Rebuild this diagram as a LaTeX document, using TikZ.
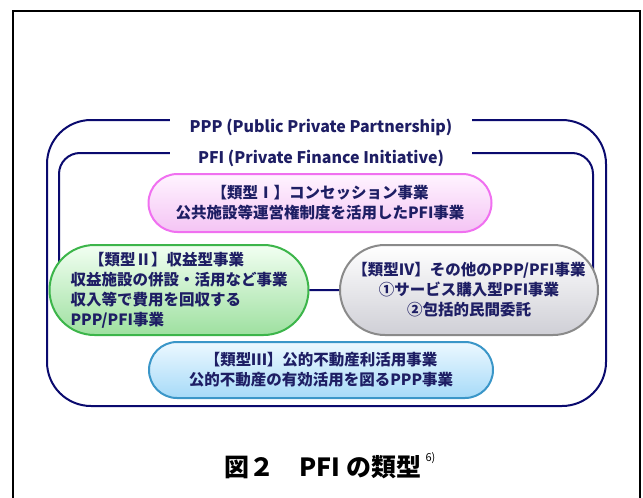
\documentclass[tikz,border=0pt]{standalone}
\usepackage{fontspec}
\setmainfont{Noto Sans CJK JP}
\usetikzlibrary{shapes.misc}

\definecolor{navy}{HTML}{0A0A6E}
\definecolor{inktext}{HTML}{1E1E64}
\definecolor{pinkline}{HTML}{F070F0}
\definecolor{pinktop}{HTML}{FFF4FF}
\definecolor{pinkbot}{HTML}{F4C4F4}
\definecolor{greenline}{HTML}{3CB54A}
\definecolor{greentop}{HTML}{F2FFF2}
\definecolor{greenbot}{HTML}{9EE0A0}
\definecolor{grayline}{HTML}{8A8A8A}
\definecolor{graytop}{HTML}{FFFFFF}
\definecolor{graybot}{HTML}{CFCFD6}
\definecolor{blueline}{HTML}{3A96C8}
\definecolor{bluetop}{HTML}{ECF8FF}
\definecolor{bluebot}{HTML}{A6DAF8}

\tikzset{
    frameline/.style={navy, line width=2pt},
    typebox/.style={rounded rectangle, line width=2pt, text=inktext, inner sep=0pt,
        font=\bfseries\fontsize{15.5}{20}\selectfont, align=center},
    titlebox/.style={fill=white, text=inktext, inner sep=0pt,
        font=\bfseries\fontsize{16}{18}\selectfont, minimum width=302pt, minimum height=22pt},
}

\begin{document}
\begin{tikzpicture}[x=1pt, y=-1pt]
    \useasboundingbox (0,0) rectangle (643,498);
    \draw[black, line width=2pt] (13,498) -- (13,11) -- (640,11) -- (640,498);

    % PPP and PFI frames
    \draw[frameline, rounded corners=44pt] (47,120) rectangle (606,406);
    \draw[frameline, rounded corners=21pt] (59,290) -- (59,153) -- (593,153) -- (593,290);
    \node[titlebox] (ppp) at (321,127) {PPP (Public Private Partnership)};
    \node[titlebox] (pfi) at (321,158) {PFI (Private Finance Initiative)};

    \node[typebox, draw=pinkline, top color=pinktop, bottom color=pinkbot,
        minimum width=343pt, minimum height=58pt] (typeI) at (320,203)
        {【類型Ⅰ】コンセッション事業\\公共施設等運営権制度を活用したPFI事業};
    \node[typebox, draw=greenline, top color=greentop, bottom color=greenbot, align=left,
        minimum width=248pt, minimum height=90pt] (typeII) at (179,290)
        {\hspace*{1.2em}【類型Ⅱ】収益型事業\\収益施設の併設・活用など事業\\収入等で費用を回収する\\PPP/PFI事業};
    \node[typebox, draw=grayline, top color=graytop, bottom color=graybot,
        minimum width=258pt, minimum height=90pt] (typeIV) at (469,290)
        {【類型Ⅳ】その他のPPP/PFI事業\\①サービス購入型PFI事業\\②包括的民間委託};
    \node[typebox, draw=blueline, top color=bluetop, bottom color=bluebot,
        minimum width=344pt, minimum height=56pt] (typeIII) at (321,370)
        {【類型Ⅲ】公的不動産利活用事業\\公的不動産の有効活用を図るPPP事業};
    \draw[frameline] (typeII) -- (typeIV);

    \node[font=\bfseries\fontsize{25}{27}\selectfont] (caption) at (330,466)
        {図２　PFI の類型\,\raisebox{0.6em}{\mdseries\fontsize{11}{11}\selectfont 6)}};
\end{tikzpicture}
\end{document}
